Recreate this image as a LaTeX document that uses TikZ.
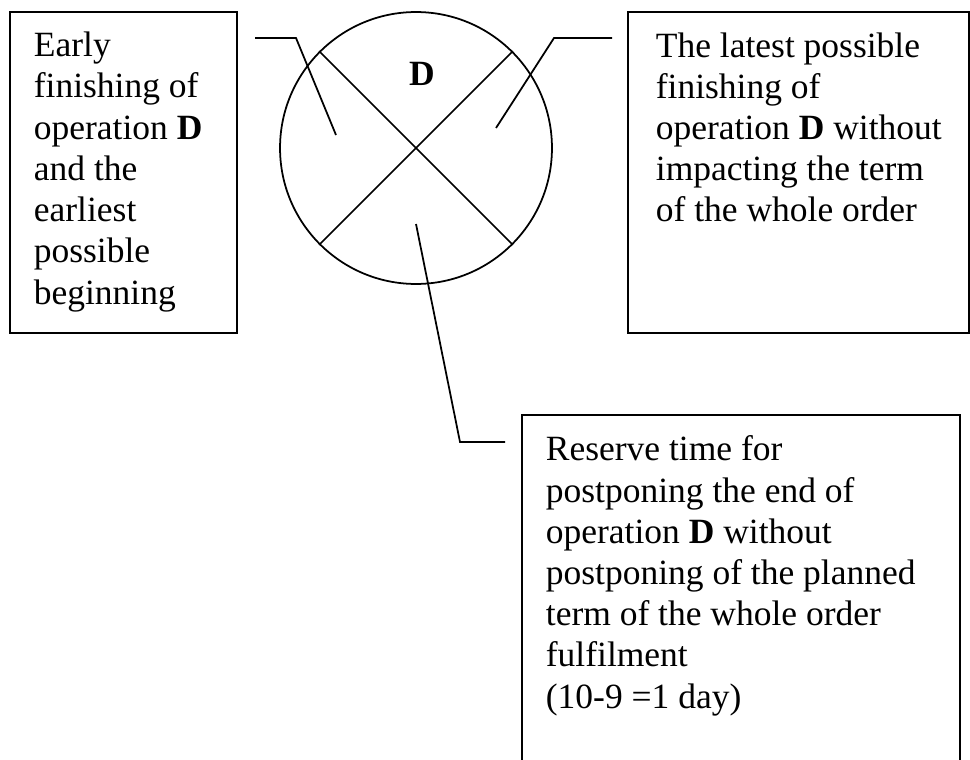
\documentclass[tikz,border=0pt]{standalone}
\usepackage{fontspec}
\setmainfont{Liberation Serif}
\usetikzlibrary{positioning}

\begin{document}
\begin{tikzpicture}[x=0.02cm,y=-0.02cm,line width=1pt,
    boxtext/.style={align=left,inner sep=0pt,anchor=base west,
      font=\fontsize{20.2pt}{23.45pt}\selectfont},
    leader/.style={line width=1pt}]

    \useasboundingbox (0,0) rectangle (970,760);
    \clip (0,0) rectangle (970,760);

    % Event circle
    \node[draw,circle,minimum size=5.44cm,inner sep=0pt] (opD) at (416,148) {};
    \draw (opD.135) -- (opD.-45);
    \draw (opD.45) -- (opD.-135);
    \node[font=\fontsize{20.2pt}{23.45pt}\selectfont\bfseries] (opname) at (422,74) {D};

    % Boxes
    \draw (10,12) rectangle (237,333);
    \draw (628,12) rectangle (969,333);
    \draw (522,415) rectangle (960,780);

    % Texts (anchored at the baseline of the last line)
    \node[boxtext] (early) at (33,304) {Early\\ finishing of\\ operation \textbf{D}\\ and the\\ earliest\\ possible\\ beginning};
    \node[boxtext] (latest) at (655,222) {The latest possible\\ finishing of\\ operation \textbf{D} without\\ impacting the term\\ of the whole order};
    \node[boxtext] (reserve) at (545,708) {Reserve time for\\ postponing the end of\\ operation \textbf{D} without\\ postponing of the planned\\ term of the whole order\\ fulfilment\\ (10-9 =1 day)};

    % Leaders
    \coordinate (lA) at (255,38);
    \coordinate (lB) at (296,38);
    \coordinate (lC) at (336,135);
    \draw[leader] (lA) -- (lB) -- (lC);

    \coordinate (rA) at (612,38);
    \coordinate (rB) at (554,38);
    \coordinate (rC) at (496,128);
    \draw[leader] (rA) -- (rB) -- (rC);

    \coordinate (bA) at (416,224);
    \coordinate (bB) at (460,442);
    \coordinate (bC) at (505,442);
    \draw[leader] (bA) -- (bB) -- (bC);

\end{tikzpicture}
\end{document}
